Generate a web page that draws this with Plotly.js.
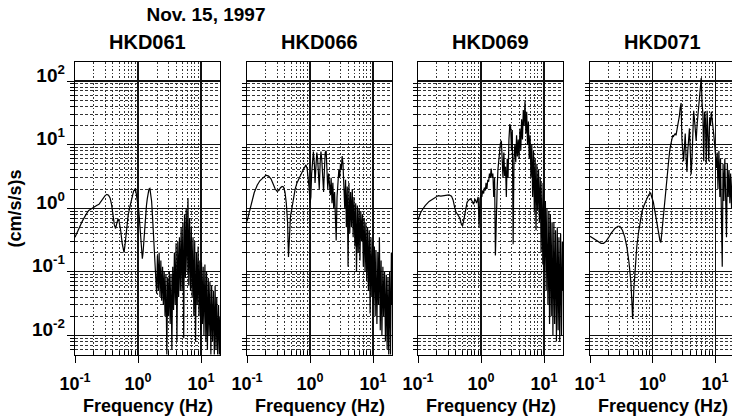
<!DOCTYPE html>
<html><head><meta charset="utf-8">
<script src="https://cdn.plot.ly/plotly-3.0.1.min.js"></script>
<style>html,body{margin:0;padding:0;background:#fff}#chart{width:732px;height:420px}</style>
</head><body><div id="chart"></div>
<script>
// ---------- data ----------
const chartTitle = 'Nov. 15, 1997';
const stations = ['HKD061', 'HKD066', 'HKD069', 'HKD071'];
const xTitle = 'Frequency (Hz)';
const yTitle = '(cm/s/s)s';
const xTickVals = [0.1, 1, 10];
const xTickText = ['10<sup>-1</sup>', '10<sup>0</sup>', '10<sup>1</sup>'];
const yTickVals = [0.01, 0.1, 1, 10, 100];
const yTickText = ['10<sup>-2</sup>', '10<sup>-1</sup>', '10<sup>0</sup>', '10<sup>1</sup>', '10<sup>2</sup>'];
const minorX = [0.2,0.3,0.4,0.5,0.6,0.7,0.8,0.9,2,3,4,5,6,7,8,9];
const minorY = [0.006,0.007,0.008,0.009,0.02,0.03,0.04,0.05,0.06,0.07,0.08,0.09,
                0.2,0.3,0.4,0.5,0.6,0.7,0.8,0.9,2,3,4,5,6,7,8,9,20,30,40,50,60,70,80,90];

// frequency samples above 1 Hz (shared by all stations)
const freqHigh = [
  1.00,1.03,1.06,1.10,1.13,1.17,1.20,1.24,1.28,1.32,
  1.36,1.40,1.45,1.49,1.54,1.59,1.64,1.69,1.74,1.80,
  1.85,1.91,1.97,2.03,2.10,2.16,2.23,2.30,2.37,2.45,
  2.52,2.60,2.68,2.77,2.86,2.95,3.04,3.13,3.23,3.33,
  3.44,3.55,3.66,3.77,3.89,4.01,4.14,4.27,4.40,4.54,
  4.68,4.83,4.98,5.14,5.30,5.46,5.64,5.81,6.00,6.19,
  6.38,6.58,6.79,7.00,7.22,7.45,7.68,7.92,8.17,8.43,
  8.70,8.97,9.25,9.54,9.84,10.15,10.5,10.8,11.1,11.5,
  11.9,12.2,12.6,13.0,13.4,13.8,14.3,14.7,15.2,15.7,
  16.2,16.7,17.2,17.7,18.3,18.9,19.5,20.0];

// HKD061
const f061Low = [0.10,0.11,0.12,0.13,0.14,0.15,0.165,0.18,0.20,0.22,
  0.24,0.26,0.28,0.30,0.32,0.34,0.36,0.38,0.40,0.42,
  0.44,0.46,0.48,0.50,0.53,0.56,0.60,0.63,0.66,0.70,
  0.75,0.80,0.85,0.91,0.95];
const a061Low = [0.35,0.42,0.52,0.62,0.72,0.8,0.92,0.98,1.03,1.1,
  1.15,1.3,1.45,1.58,1.65,1.6,1.45,1.15,0.8,0.55,
  0.48,0.55,0.68,0.62,0.45,0.28,0.2,0.3,0.5,0.8,
  1.1,1.45,1.85,2.05,1.6];
const a061High = [
  1.2,0.9,0.6,0.35,0.22,0.16,0.2,0.35,0.55,0.8,
  1.1,1.4,1.75,2.0,2.05,1.7,1.3,0.8,0.45,0.25,
  0.16,0.12,0.045,0.18,0.05,0.2,0.04,0.15,0.035,0.12,
  0.03,0.1,0.02,0.09,0.005,0.08,0.02,0.1,0.015,0.09,
  0.006,0.12,0.025,0.2,0.03,0.28,0.008,0.3,0.04,0.35,
  0.05,0.5,0.05,0.6,0.009,0.8,0.08,1.0,0.1,1.45,
  0.06,0.7,0.05,0.5,0.04,0.35,0.02,0.3,0.008,0.2,
  0.03,0.25,0.02,0.15,0.012,0.14,0.015,0.12,0.01,0.13,
  0.008,0.1,0.006,0.08,0.01,0.07,0.005,0.06,0.008,0.05,
  0.005,0.06,0.006,0.04,0.005,0.03,0.005,0.02];

// HKD066
const f066Low = [0.10,0.11,0.12,0.13,0.145,0.16,0.18,0.20,0.22,0.24,
  0.26,0.28,0.30,0.32,0.34,0.36,0.38,0.40,0.42,0.44,
  0.455,0.47,0.49,0.52,0.55,0.58,0.62,0.66,0.71,0.76,
  0.81,0.86,0.90,0.94,0.97];
const a066Low = [0.62,0.9,1.3,1.75,2.3,2.7,3.0,3.3,3.2,2.9,
  2.4,2.0,1.85,1.9,2.1,2.2,2.15,1.8,1.2,0.6,
  0.17,0.4,0.75,1.05,1.5,2.0,2.5,2.9,3.3,3.8,
  4.3,4.8,4.2,3.0,2.0];
const a066High = [
  1.2,1.5,3.5,6.5,7.8,5.0,2.5,4.5,7.5,6.0,
  2.2,2.0,5.5,7.8,5.5,2.5,1.8,4.0,7.5,8.0,
  4.0,2.0,3.5,2.0,1.6,3.0,1.2,2.5,1.0,1.8,
  0.9,0.31,1.5,2.5,4.0,3.0,5.0,4.0,6.6,5.0,
  2.5,1.0,2.8,0.5,2.2,0.12,2.5,0.4,1.8,0.5,
  2.0,0.35,1.5,0.25,1.2,0.1,1.1,0.2,1.0,0.15,
  0.9,0.3,0.8,0.12,0.7,0.1,0.6,0.07,0.5,0.05,
  0.45,0.022,0.35,0.04,0.3,0.03,0.25,0.02,0.22,0.015,
  0.2,0.03,0.35,0.012,0.15,0.01,0.12,0.02,0.1,0.008,
  0.09,0.006,0.08,0.005,0.1,0.005,0.2,0.03];

// HKD069
const f069Low = [0.10,0.11,0.12,0.13,0.15,0.17,0.19,0.21,0.23,0.25,
  0.28,0.31,0.34,0.36,0.38,0.40,0.43,0.46,0.49,0.51,
  0.54,0.57,0.60,0.64,0.68,0.72,0.76,0.80,0.85,0.90,
  0.93,0.96];
const a069Low = [0.65,0.85,0.98,1.1,1.28,1.4,1.52,1.58,1.55,1.56,
  1.58,1.62,1.55,1.35,1.05,0.87,0.78,0.7,0.55,0.53,
  0.7,0.95,1.24,1.35,1.4,1.3,1.15,1.4,1.2,1.5,
  0.5,1.4];
const a069High = [
  1.6,1.5,1.9,1.7,2.1,1.9,2.5,2.0,2.8,2.6,
  3.5,3.0,4.2,3.0,3.5,1.5,3.0,0.18,1.2,2.0,
  4.0,6.0,8.0,10.5,11.5,5.0,3.0,7.5,3.2,4.5,
  1.5,6.0,3.0,12.0,21.0,19.0,8.0,17.0,0.27,6.0,
  10.0,5.3,14.0,6.5,12.0,6.0,18.0,8.0,25.0,12.0,
  35.0,20.0,48.0,15.0,33.0,10.0,23.0,6.0,14.0,3.0,
  10.0,1.5,8.0,0.9,6.0,0.45,5.0,0.9,4.0,0.6,
  3.0,0.2,2.5,0.13,2.0,0.1,1.3,0.05,1.0,0.03,
  0.9,0.015,0.8,0.02,0.6,0.01,0.6,0.015,0.45,0.008,
  0.5,0.012,0.35,0.008,0.4,0.01,0.3,0.05];

// HKD071
const f071Low = [0.10,0.11,0.12,0.135,0.15,0.165,0.18,0.20,0.22,0.25,
  0.28,0.30,0.33,0.36,0.39,0.42,0.45,0.47,0.48,0.50,
  0.53,0.56,0.60,0.64,0.68,0.73,0.77,0.82,0.88,0.93,
  0.97];
const a071Low = [0.36,0.34,0.32,0.3,0.28,0.28,0.3,0.35,0.41,0.48,
  0.52,0.52,0.45,0.35,0.24,0.14,0.07,0.03,0.018,0.05,
  0.115,0.25,0.43,0.65,0.9,1.1,1.29,1.45,1.65,1.75,
  1.5];
const a071High = [
  1.4,1.25,1.05,0.85,0.7,0.57,0.5,0.42,0.35,0.3,
  0.29,0.4,0.6,0.85,1.1,1.6,2.4,3.3,4.2,5.5,
  7.0,9.0,11.0,13.0,14.0,13.5,14.5,15.0,14.0,17.0,
  19.0,21.0,28.0,38.0,45.0,12.0,7.0,5.5,9.0,15.0,
  6.0,3.7,8.0,12.0,18.0,8.0,3.4,6.0,15.0,34.0,
  25.0,18.0,11.4,20.0,30.0,42.0,60.0,90.0,112.0,45.0,
  30.0,5.5,33.0,25.0,5.1,34.0,12.0,5.5,27.0,20.0,
  33.0,22.0,18.0,14.0,10.0,6.0,4.3,7.5,2.0,8.0,
  1.5,6.0,1.2,0.12,5.0,1.3,6.0,1.1,0.35,5.0,
  1.5,4.0,1.2,3.5,1.0,3.0,0.8,2.0];

// ---------- layout ----------
const W = 732, H = 420;
const FONT = 'Liberation Sans, Arial, Helvetica, sans-serif';
const panels = [
  {name: stations[0], fLow: f061Low, aLow: a061Low, aHigh: a061High, px: [75, 220], range: [-1, 1.3]},
  {name: stations[1], fLow: f066Low, aLow: a066Low, aHigh: a066High, px: [247, 392], range: [-1, 1.3]},
  {name: stations[2], fLow: f069Low, aLow: a069Low, aHigh: a069High, px: [418, 563], range: [-1, 1.3]},
  {name: stations[3], fLow: f071Low, aLow: a071Low, aHigh: a071High, px: [590, 732], range: [-1, 1.27]}
];
const yDomain = [1 - 355 / H, 1 - 62 / H];
const boldFont = (s) => ({family: FONT, size: s, weight: 700, color: '#000'});

const traces = [];
const layout = {
  width: W, height: H,
  margin: {l: 0, r: 0, t: 0, b: 0},
  paper_bgcolor: '#fff', plot_bgcolor: '#fff',
  showlegend: false,
  font: {family: FONT, color: '#000'},
  title: {text: chartTitle, x: 206 / W, xanchor: 'center', xref: 'paper',
          y: 1 - 14 / H, yanchor: 'middle', yref: 'container',
          font: boldFont(19)},
  annotations: []
};

panels.forEach((p, i) => {
  const sx = i === 0 ? '' : String(i + 1);
  const cx = (p.px[0] + 72.5) / W;
  traces.push({
    type: 'scatter', mode: 'lines',
    x: p.fLow.concat(freqHigh), y: p.aLow.concat(p.aHigh),
    xaxis: 'x' + sx, yaxis: 'y' + sx,
    line: {color: '#000', width: 1.2},
    hoverinfo: 'skip'
  });
  layout['xaxis' + sx] = {
    type: 'log', domain: [p.px[0] / W, p.px[1] / W], range: p.range,
    anchor: 'y' + sx,
    tickmode: 'array', tickvals: xTickVals, ticktext: xTickText,
    ticks: 'outside', ticklen: 7, tickcolor: '#000', tickwidth: 1,
    tickfont: boldFont(18),
    ticklabelstandoff: 5,
    showgrid: true, gridcolor: '#111', gridwidth: 1.2,
    minor: {tickmode: 'array', tickvals: minorX, ticks: 'inside', ticklen: 4, tickcolor: '#000',
            showgrid: true, gridcolor: '#333', gridwidth: 1, griddash: '1.5px,2px'},
    showline: true, linecolor: '#000', linewidth: 1.3, mirror: true,
    zeroline: false,
    title: {text: ''}
  };
  layout['yaxis' + sx] = {
    type: 'log', domain: yDomain, range: [-2.31, 2.3],
    anchor: 'x' + sx,
    tickmode: 'array', tickvals: yTickVals, ticktext: yTickText,
    showticklabels: i === 0,
    ticks: 'outside', ticklen: i === 0 ? 7 : 0, tickcolor: '#000',
    tickfont: boldFont(19),
    ticklabelshift: -6, ticklabelstandoff: -2,
    showgrid: true, gridcolor: '#111', gridwidth: 1.2,
    minor: {tickmode: 'array', tickvals: minorY, ticks: 'outside', ticklen: 4, tickcolor: '#000',
            showgrid: true, gridcolor: '#333', gridwidth: 1, griddash: '3px,2px'},
    showline: true, linecolor: '#000', linewidth: 1.3, mirror: true,
    zeroline: false,
    title: i === 0 ? {text: yTitle, standoff: 5, font: boldFont(18)} : {text: ''}
  };
  // station name above each panel
  layout.annotations.push({
    text: p.name, xref: 'paper', yref: 'paper',
    x: cx, xanchor: 'center',
    y: 1 - 42 / H, yanchor: 'middle', showarrow: false,
    font: boldFont(20)
  });
  // x-axis title below each panel
  layout.annotations.push({
    text: xTitle, xref: 'paper', yref: 'paper',
    x: cx, xanchor: 'center',
    y: 1 - 406 / H, yanchor: 'middle', showarrow: false,
    font: boldFont(18)
  });
});

Plotly.newPlot('chart', traces, layout, {displayModeBar: false, staticPlot: true});
</script>
</body></html>
